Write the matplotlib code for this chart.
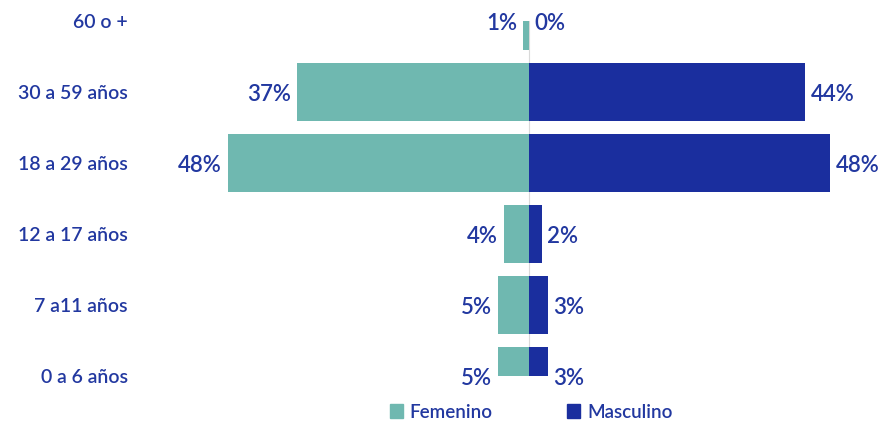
import matplotlib.pyplot as plt
from matplotlib.patches import Patch

# datos
grupos = ["0 a 6 años", "7 a11 años", "12 a 17 años", "18 a 29 años",
          "30 a 59 años", "60 o +"]
femenino = [5, 5, 4, 48, 37, 1]
masculino = [3, 3, 2, 48, 44, 0]

COL_F = "#6fb8b0"
COL_M = "#1a2e9e"
COL_TXT = "#2238a0"

plt.rcParams['font.family'] = ['Lato', 'DejaVu Sans']
plt.rcParams['font.weight'] = 'semibold'

W, H = 882, 424
fig = plt.figure(figsize=(W / 100, H / 100), dpi=100)
scale = 6.28          # px per %
x0, x1, xc = 150, 880, 529
ax = fig.add_axes([x0 / W, 1 - 376 / H, (x1 - x0) / W, (376 - 21) / H])
ax.set_xlim(-(xc - x0) / scale, (x1 - xc) / scale)
ax.set_ylim(0, len(grupos) - 1)

y = list(range(len(grupos)))
ax.barh(y, [-v for v in femenino], height=0.82, color=COL_F, zorder=2)
ax.barh(y, masculino, height=0.82, color=COL_M, zorder=2)
ax.axvline(0, color="#d9d9d9", lw=0.8, zorder=1)

gap = 0.9
for yi, f, m in zip(y, femenino, masculino):
    ax.text(-f - gap, yi - 0.03, f"{f}%", ha="right", va="center",
            fontsize=16, color=COL_TXT)
    ax.text(m + gap, yi - 0.03, f"{m}%", ha="left", va="center",
            fontsize=16, color=COL_TXT)

ax.set_yticks(y)
ax.set_yticklabels(grupos, fontsize=14, color=COL_TXT)
ax.tick_params(axis="y", length=0, pad=16)
ax.set_xticks([])
for s in ax.spines.values():
    s.set_visible(False)

handles = [Patch(color=COL_F, label="Femenino"),
           Patch(color=COL_M, label="Masculino")]
leg = fig.legend(handles=handles, loc="center", ncol=2,
                 bbox_to_anchor=(531 / W, 1 - 412 / H), frameon=False,
                 fontsize=13.5, handlelength=0.7, handleheight=0.7,
                 handletextpad=0.35, columnspacing=4.0)
for t in leg.get_texts():
    t.set_color(COL_TXT)

fig.savefig("out.png", dpi=100)
